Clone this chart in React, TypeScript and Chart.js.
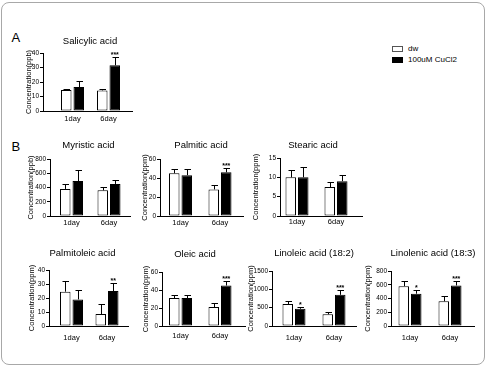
import React, { useEffect, useRef } from 'react';
import { Chart, registerables } from 'chart.js';
Chart.register(...registerables);

const FONT = '"Liberation Sans", Arial, Helvetica, sans-serif';

const categories = ['1day', '6day'];
const seriesLabels = ['dw', '100uM CuCl2'];

// Salicylic acid (ppb)
const salicylicDw = [14.5, 14.2];
const salicylicDwSd = [1.0, 0.8];
const salicylicCu = [16.5, 31.5];
const salicylicCuSd = [4.5, 5.5];
const salicylicSig = ['', '***'];
const salicylicTicks = [0, 10, 20, 30, 40];

// Myristic acid (ppb)
const myristicDw = [380, 360];
const myristicDwSd = [70, 50];
const myristicCu = [490, 450];
const myristicCuSd = [160, 60];
const myristicSig = ['', ''];
const myristicTicks = [0, 200, 400, 600, 800];

// Palmitic acid (ppm)
const palmiticDw = [45, 28];
const palmiticDwSd = [5, 5];
const palmiticCu = [43, 46];
const palmiticCuSd = [6, 5];
const palmiticSig = ['', '***'];
const palmiticTicks = [0, 20, 40, 60];

// Stearic acid (ppm)
const stearicDw = [10, 7.5];
const stearicDwSd = [1.8, 1.4];
const stearicCu = [10, 9];
const stearicCuSd = [2.8, 1.6];
const stearicSig = ['', ''];
const stearicTicks = [0, 5, 10, 15];

// Palmitoleic acid (ppm)
const palmitoleicDw = [24.5, 8.5];
const palmitoleicDwSd = [8, 7];
const palmitoleicCu = [19, 25];
const palmitoleicCuSd = [7, 5.5];
const palmitoleicSig = ['', '**'];
const palmitoleicTicks = [0, 10, 20, 30, 40];

// Oleic acid (ppm)
const oleicDw = [31, 21];
const oleicDwSd = [3.5, 5];
const oleicCu = [31, 45];
const oleicCuSd = [3, 5];
const oleicSig = ['', '***'];
const oleicTicks = [0, 20, 40, 60];

// Linoleic acid (18:2) (ppm)
const linoleicDw = [600, 320];
const linoleicDwSd = [80, 60];
const linoleicCu = [470, 850];
const linoleicCuSd = [60, 120];
const linoleicSig = ['*', '***'];
const linoleicTicks = [0, 500, 1000, 1500];

// Linolenic acid (18:3) (ppm)
const linolenicDw = [580, 360];
const linolenicDwSd = [70, 70];
const linolenicCu = [470, 590];
const linolenicCuSd = [50, 70];
const linolenicSig = ['*', '***'];
const linolenicTicks = [0, 200, 400, 600, 800];

type PanelData = {
  title: string; unit: string; ticks: number[];
  dw: number[]; dwSd: number[]; cu: number[]; cuSd: number[]; sig: string[];
};
type PanelLayout = {
  axisX: number; plotTop: number; plotBottom: number; plotRight: number;
  c1: number; c2: number; titleX: number; titleY: number; yTitleX: number; xLabelY: number;
};

const panels: { data: PanelData; layout: PanelLayout }[] = [
  { data: { title: 'Salicylic acid', unit: 'ppb', ticks: salicylicTicks, dw: salicylicDw, dwSd: salicylicDwSd, cu: salicylicCu, cuSd: salicylicCuSd, sig: salicylicSig },
    layout: { axisX: 43, plotTop: 53, plotBottom: 111, plotRight: 132, c1: 72.5, c2: 108.5, titleX: 90, titleY: 41.5, yTitleX: 28, xLabelY: 119 } },
  { data: { title: 'Myristic acid', unit: 'ppb', ticks: myristicTicks, dw: myristicDw, dwSd: myristicDwSd, cu: myristicCu, cuSd: myristicCuSd, sig: myristicSig },
    layout: { axisX: 50, plotTop: 159, plotBottom: 216, plotRight: 130, c1: 71.5, c2: 109, titleX: 88.5, titleY: 145, yTitleX: 30, xLabelY: 223 } },
  { data: { title: 'Palmitic acid', unit: 'ppm', ticks: palmiticTicks, dw: palmiticDw, dwSd: palmiticDwSd, cu: palmiticCu, cuSd: palmiticCuSd, sig: palmiticSig },
    layout: { axisX: 160, plotTop: 159, plotBottom: 216, plotRight: 243, c1: 180.5, c2: 220, titleX: 201, titleY: 145, yTitleX: 144.5, xLabelY: 223 } },
  { data: { title: 'Stearic acid', unit: 'ppm', ticks: stearicTicks, dw: stearicDw, dwSd: stearicDwSd, cu: stearicCu, cuSd: stearicCuSd, sig: stearicSig },
    layout: { axisX: 280, plotTop: 158, plotBottom: 216, plotRight: 362, c1: 297, c2: 336, titleX: 313, titleY: 145, yTitleX: 255, xLabelY: 222 } },
  { data: { title: 'Palmitoleic acid', unit: 'ppm', ticks: palmitoleicTicks, dw: palmitoleicDw, dwSd: palmitoleicDwSd, cu: palmitoleicCu, cuSd: palmitoleicCuSd, sig: palmitoleicSig },
    layout: { axisX: 49, plotTop: 270, plotBottom: 326, plotRight: 128, c1: 71.5, c2: 107, titleX: 82.5, titleY: 253.5, yTitleX: 31, xLabelY: 337.5 } },
  { data: { title: 'Oleic acid', unit: 'ppm', ticks: oleicTicks, dw: oleicDw, dwSd: oleicDwSd, cu: oleicCu, cuSd: oleicCuSd, sig: oleicSig },
    layout: { axisX: 162, plotTop: 272, plotBottom: 326, plotRight: 245, c1: 180.5, c2: 220, titleX: 195, titleY: 254, yTitleX: 145, xLabelY: 336 } },
  { data: { title: 'Linoleic acid (18:2)', unit: 'ppm', ticks: linoleicTicks, dw: linoleicDw, dwSd: linoleicDwSd, cu: linoleicCu, cuSd: linoleicCuSd, sig: linoleicSig },
    layout: { axisX: 272, plotTop: 271, plotBottom: 326, plotRight: 356, c1: 294, c2: 334, titleX: 314, titleY: 253.5, yTitleX: 250, xLabelY: 338 } },
  { data: { title: 'Linolenic acid (18:3)', unit: 'ppm', ticks: linolenicTicks, dw: linolenicDw, dwSd: linolenicDwSd, cu: linolenicCu, cuSd: linolenicCuSd, sig: linolenicSig },
    layout: { axisX: 391, plotTop: 271, plotBottom: 326, plotRight: 474, c1: 410, c2: 450, titleX: 433, titleY: 253.5, yTitleX: 367, xLabelY: 337.5 } },
];

const TITLE_SIZE = 9.5;
const YTITLE_SIZE = 7.5;
const TICK_SIZE = 6.5;
const XLABEL_SIZE = 7.5;

function Panel({ data, layout }: { data: PanelData; layout: PanelLayout }) {
  const ref = useRef<HTMLCanvasElement>(null);
  const yTitleLH = YTITLE_SIZE * 1.2;
  const canvasLeft = Math.round(layout.yTitleX - yTitleLH / 2);
  const canvasTop = Math.round(layout.titleY - 9);
  const yw = layout.axisX - canvasLeft;
  const xh = 24;
  const padTop = layout.plotTop - canvasTop;
  const canvasRight = Math.max(layout.plotRight + 3, Math.ceil(layout.titleX + 48));
  const padRight = canvasRight - layout.plotRight;
  const W = canvasRight - canvasLeft;
  const H = layout.plotBottom - canvasTop + xh;
  const titleYLocal = layout.titleY - canvasTop;
  const titleXLocal = layout.titleX - canvasLeft;
  const spacing = layout.c2 - layout.c1;
  const startValue = -(layout.c1 - layout.axisX) / spacing;
  const valueRange = (layout.plotRight - layout.axisX) / spacing;
  const xPad = layout.xLabelY - layout.plotBottom - (XLABEL_SIZE * 1.2) / 2;

  useEffect(() => {
    const canvas = ref.current;
    if (!canvas) return;
    const sds = [data.dwSd, data.cuSd];
    const errorBars = {
      id: 'errorBars',
      afterDatasetsDraw(chart: any) {
        const ctx = chart.ctx;
        const ys = chart.scales.y;
        chart.data.datasets.forEach((ds: any, di: number) => {
          const meta = chart.getDatasetMeta(di);
          meta.data.forEach((bar: any, i: number) => {
            const v = ds.data[i] as number;
            const sd = sds[di][i];
            const yTop = Math.round(ys.getPixelForValue(v + sd)) + 0.5;
            const yBar = ys.getPixelForValue(v);
            const x = Math.round(bar.x) + 0.5;
            ctx.save();
            ctx.strokeStyle = '#000';
            ctx.lineWidth = 1;
            ctx.beginPath();
            ctx.moveTo(x, yBar);
            ctx.lineTo(x, yTop);
            ctx.moveTo(x - 3, yTop);
            ctx.lineTo(x + 3.5, yTop);
            ctx.stroke();
            if (di === 1 && data.sig[i]) {
              ctx.fillStyle = '#000';
              ctx.font = `bold 7px ${FONT}`;
              ctx.textAlign = 'center';
              ctx.textBaseline = 'bottom';
              ctx.fillText(data.sig[i], bar.x, yTop + 1);
            }
            ctx.restore();
          });
        });
      },
    };
    const panelTitle = {
      id: 'panelTitle',
      afterDraw(chart: any) {
        const ctx = chart.ctx;
        ctx.save();
        ctx.fillStyle = '#000';
        ctx.font = `${TITLE_SIZE}px ${FONT}`;
        ctx.textAlign = 'center';
        ctx.textBaseline = 'middle';
        ctx.fillText(data.title, titleXLocal, titleYLocal);
        ctx.restore();
      },
    };
    const t = data.ticks;
    const chart = new Chart(canvas, {
      type: 'bar',
      data: {
        labels: categories,
        datasets: [
          { label: seriesLabels[0], data: data.dw, backgroundColor: '#fff', borderColor: '#000', borderWidth: 1, borderSkipped: false },
          { label: seriesLabels[1], data: data.cu, backgroundColor: '#000', borderColor: '#000', borderWidth: 1, borderSkipped: false },
        ],
      },
      options: {
        responsive: false,
        animation: false,
        devicePixelRatio: 1,
        layout: { padding: { top: padTop, right: padRight, left: 0, bottom: 0 } },
        plugins: { legend: { display: false }, tooltip: { enabled: false }, title: { display: false } },
        datasets: { bar: { categoryPercentage: 25 / spacing, barPercentage: 0.84 } },
        scales: {
          x: {
            grid: { display: false, drawTicks: false },
            border: { display: true, color: '#000', width: 1 },
            ticks: { color: '#000', font: { family: FONT, size: XLABEL_SIZE }, padding: xPad, maxRotation: 0 },
            afterBuildTicks: (s: any) => { s._startValue = startValue; s._valueRange = valueRange; },
            afterFit: (s: any) => { s.height = xh; },
          },
          y: {
            min: t[0],
            max: t[t.length - 1],
            grid: { drawOnChartArea: false, drawTicks: true, tickLength: 3, color: '#000', lineWidth: 1 },
            border: { display: true, color: '#000', width: 1 },
            ticks: {
              stepSize: t[1] - t[0], color: '#000', font: { family: FONT, size: TICK_SIZE }, padding: 1,
              callback: (v: any) => String(v),
            },
            title: { display: true, text: `Concentration(${data.unit})`, color: '#000', font: { family: FONT, size: YTITLE_SIZE }, padding: 0 },
            afterFit: (s: any) => { s.width = yw; },
          },
        },
      } as any,
      plugins: [errorBars, panelTitle],
    });
    return () => chart.destroy();
  }, []);

  return (
    <canvas
      ref={ref}
      width={W}
      height={H}
      style={{ position: 'absolute', left: canvasLeft, top: canvasTop, width: W, height: H }}
    />
  );
}

export default function App() {
  return (
    <div style={{ position: 'absolute', left: 0, top: 0, width: 490, height: 370, background: '#fff', fontFamily: FONT, overflow: 'hidden' }}>
      <div style={{ position: 'absolute', left: 1, top: 2, width: 482, height: 361, border: '1px solid #a8a8a8', borderRadius: 8 }} />
      <div style={{ position: 'absolute', left: 11.5, top: 31, fontSize: 13, lineHeight: '13px', color: '#000' }}>A</div>
      <div style={{ position: 'absolute', left: 11.5, top: 140, fontSize: 13, lineHeight: '13px', color: '#000' }}>B</div>
      <div style={{ position: 'absolute', left: 392, top: 46, width: 9, height: 4, border: '1px solid #555', background: '#fff' }} />
      <div style={{ position: 'absolute', left: 408, top: 45, fontSize: 8, lineHeight: '8px', color: '#000' }}>{seriesLabels[0]}</div>
      <div style={{ position: 'absolute', left: 392, top: 57, width: 11, height: 6, background: '#000' }} />
      <div style={{ position: 'absolute', left: 408, top: 55.6, fontSize: 8, lineHeight: '8px', color: '#000' }}>{seriesLabels[1]}</div>
      {panels.map((p, i) => (
        <Panel key={i} data={p.data} layout={p.layout} />
      ))}
    </div>
  );
}
